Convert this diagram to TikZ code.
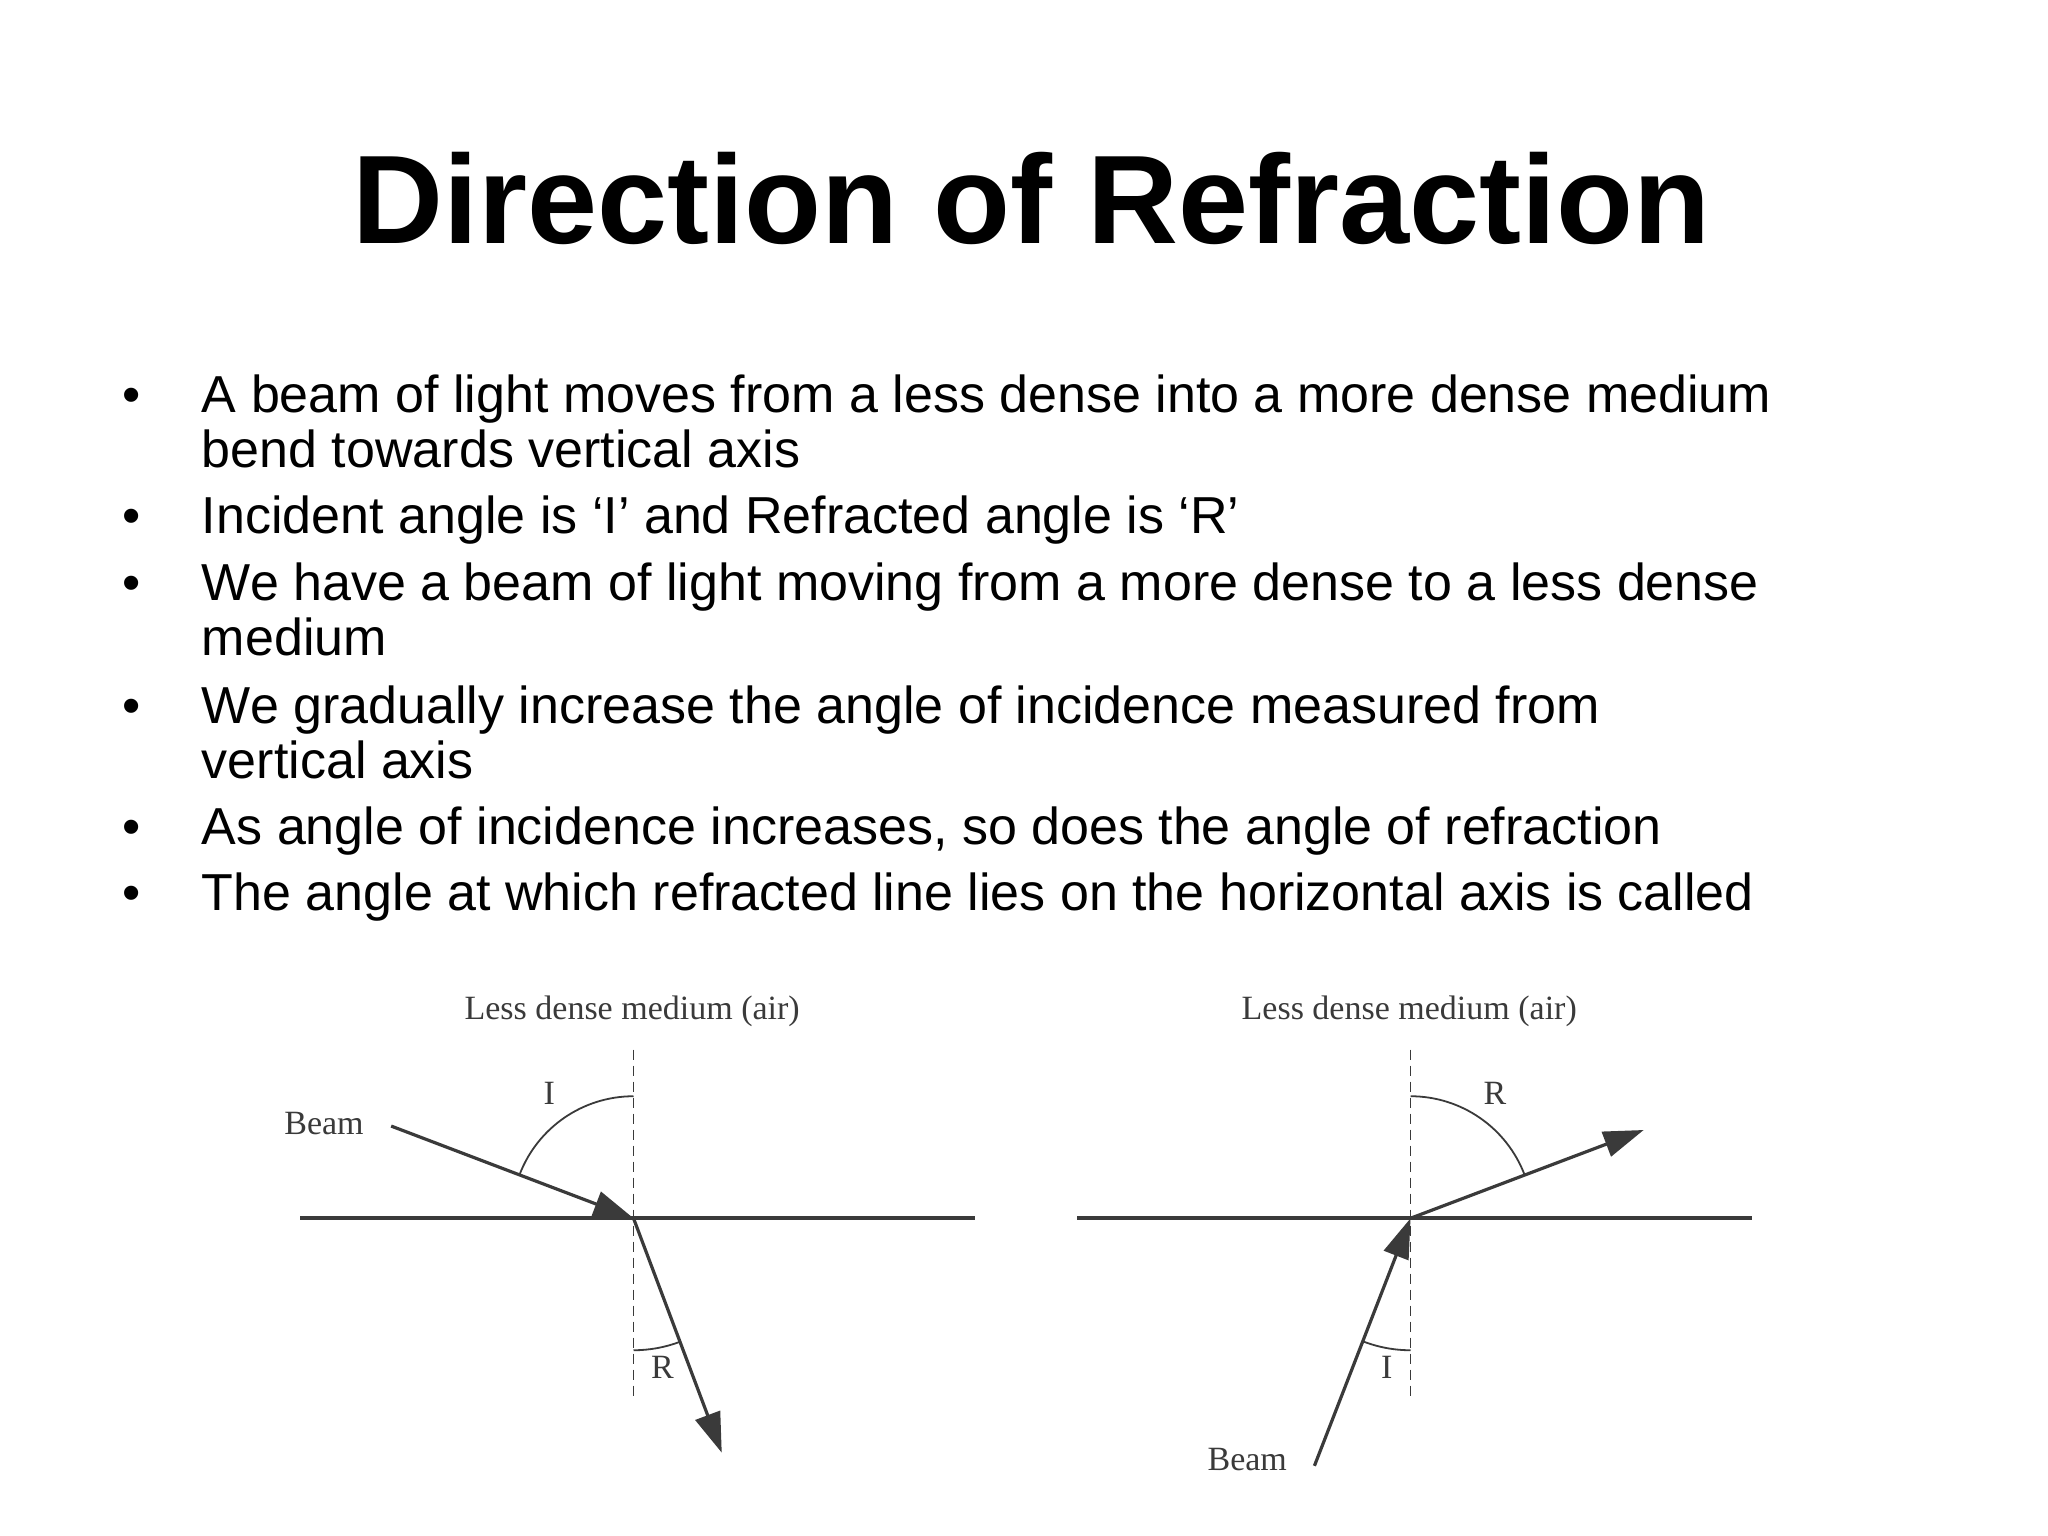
\documentclass[tikz,border=0pt]{standalone}
\usepackage{fontspec}
\setmainfont{Liberation Sans}
\newfontfamily\dserif{Liberation Serif}
\usetikzlibrary{arrows.meta}
\definecolor{ink}{HTML}{3A3A3A}
\begin{document}
\begin{tikzpicture}[x=0.6585pt,y=0.6585pt,
  btxt/.style={anchor=base west,inner sep=0pt,font=\fontsize{26}{30}\selectfont},
  bdot/.style={anchor=base,inner sep=0pt,font=\fontsize{26}{30}\selectfont},
  lbl/.style={inner sep=0pt,text=ink,font=\dserif\fontsize{17}{20}\selectfont},
  ray/.style={draw=ink,line width=1.6pt,-{Triangle[length=20pt,width=13pt]}},
  surf/.style={draw=ink,line width=2.2pt},
  axis/.style={draw=ink,line width=0.8pt,dash pattern=on 5pt off 3pt},
  angarc/.style={draw=ink,line width=0.9pt}]
\useasboundingbox (0,0) rectangle (1555,1166);
\node[anchor=base,inner sep=0pt,font=\bfseries\fontsize{63}{70}\selectfont] (title) at (783,981) {Direction of Refraction};
\node[bdot] (d1) at (100,853) {•};
\node[btxt] (t1a) at (153,853) {A beam of light moves from a less dense into a more dense medium};
\node[btxt] (t1b) at (153,811) {bend towards vertical axis};
\node[bdot] (d2) at (100,761) {•};
\node[btxt] (t2) at (153,761) {Incident angle is ‘I’ and Refracted angle is ‘R’};
\node[bdot] (d3) at (100,710) {•};
\node[btxt] (t3a) at (153,710) {We have a beam of light moving from a more dense to a less dense};
\node[btxt] (t3b) at (153,668) {medium};
\node[bdot] (d4) at (100,617) {•};
\node[btxt] (t4a) at (153,617) {We gradually increase the angle of incidence measured from};
\node[btxt] (t4b) at (153,575) {vertical axis};
\node[bdot] (d5) at (100,525) {•};
\node[btxt] (t5) at (153,525) {As angle of incidence increases, so does the angle of refraction};
\node[bdot] (d6) at (100,475) {•};
\node[btxt] (t6) at (153,475) {The angle at which refracted line lies on the horizontal axis is called};
% left diagram
\coordinate (O1) at (481,241);
\coordinate (L1) at (228,241); \coordinate (R1) at (740,241);
\coordinate (T1) at (481,369); \coordinate (B1) at (481,106);
\coordinate (S1) at (297,311); \coordinate (E1) at (548,63);
\node[lbl] (h1) at (480,398) {Less dense medium (air)};
\draw[surf] (L1) -- (R1);
\draw[axis] (T1) -- (B1);
\draw[ray] (S1) -- (O1);
\draw[ray] (O1) -- (E1);
\draw[angarc] (O1) ++(90:61pt) arc[start angle=90,end angle=159,radius=61pt];
\draw[angarc] (O1) ++(270:66pt) arc[start angle=270,end angle=290.6,radius=66pt];
\node[lbl] (i1) at (417,336) {I};
\node[lbl] (bm1) at (246,313) {Beam};
\node[lbl] (r1) at (503,128) {R};
% right diagram
\coordinate (O2) at (1071,241);
\coordinate (L2) at (818,241); \coordinate (R2) at (1330,241);
\coordinate (T2) at (1071,369); \coordinate (B2) at (1071,106);
\coordinate (S2) at (998,53); \coordinate (E2) at (1248,308);
\node[lbl] (h2) at (1070,398) {Less dense medium (air)};
\draw[surf] (L2) -- (R2);
\draw[axis] (T2) -- (B2);
\draw[ray] (S2) -- (O2);
\draw[ray] (O2) -- (E2);
\draw[angarc] (O2) ++(20.7:61pt) arc[start angle=20.7,end angle=90,radius=61pt];
\draw[angarc] (O2) ++(248.8:66pt) arc[start angle=248.8,end angle=270,radius=66pt];
\node[lbl] (r2) at (1135,336) {R};
\node[lbl] (i2) at (1053,128) {I};
\node[lbl] (bm2) at (947,58) {Beam};
\end{tikzpicture}
\end{document}
